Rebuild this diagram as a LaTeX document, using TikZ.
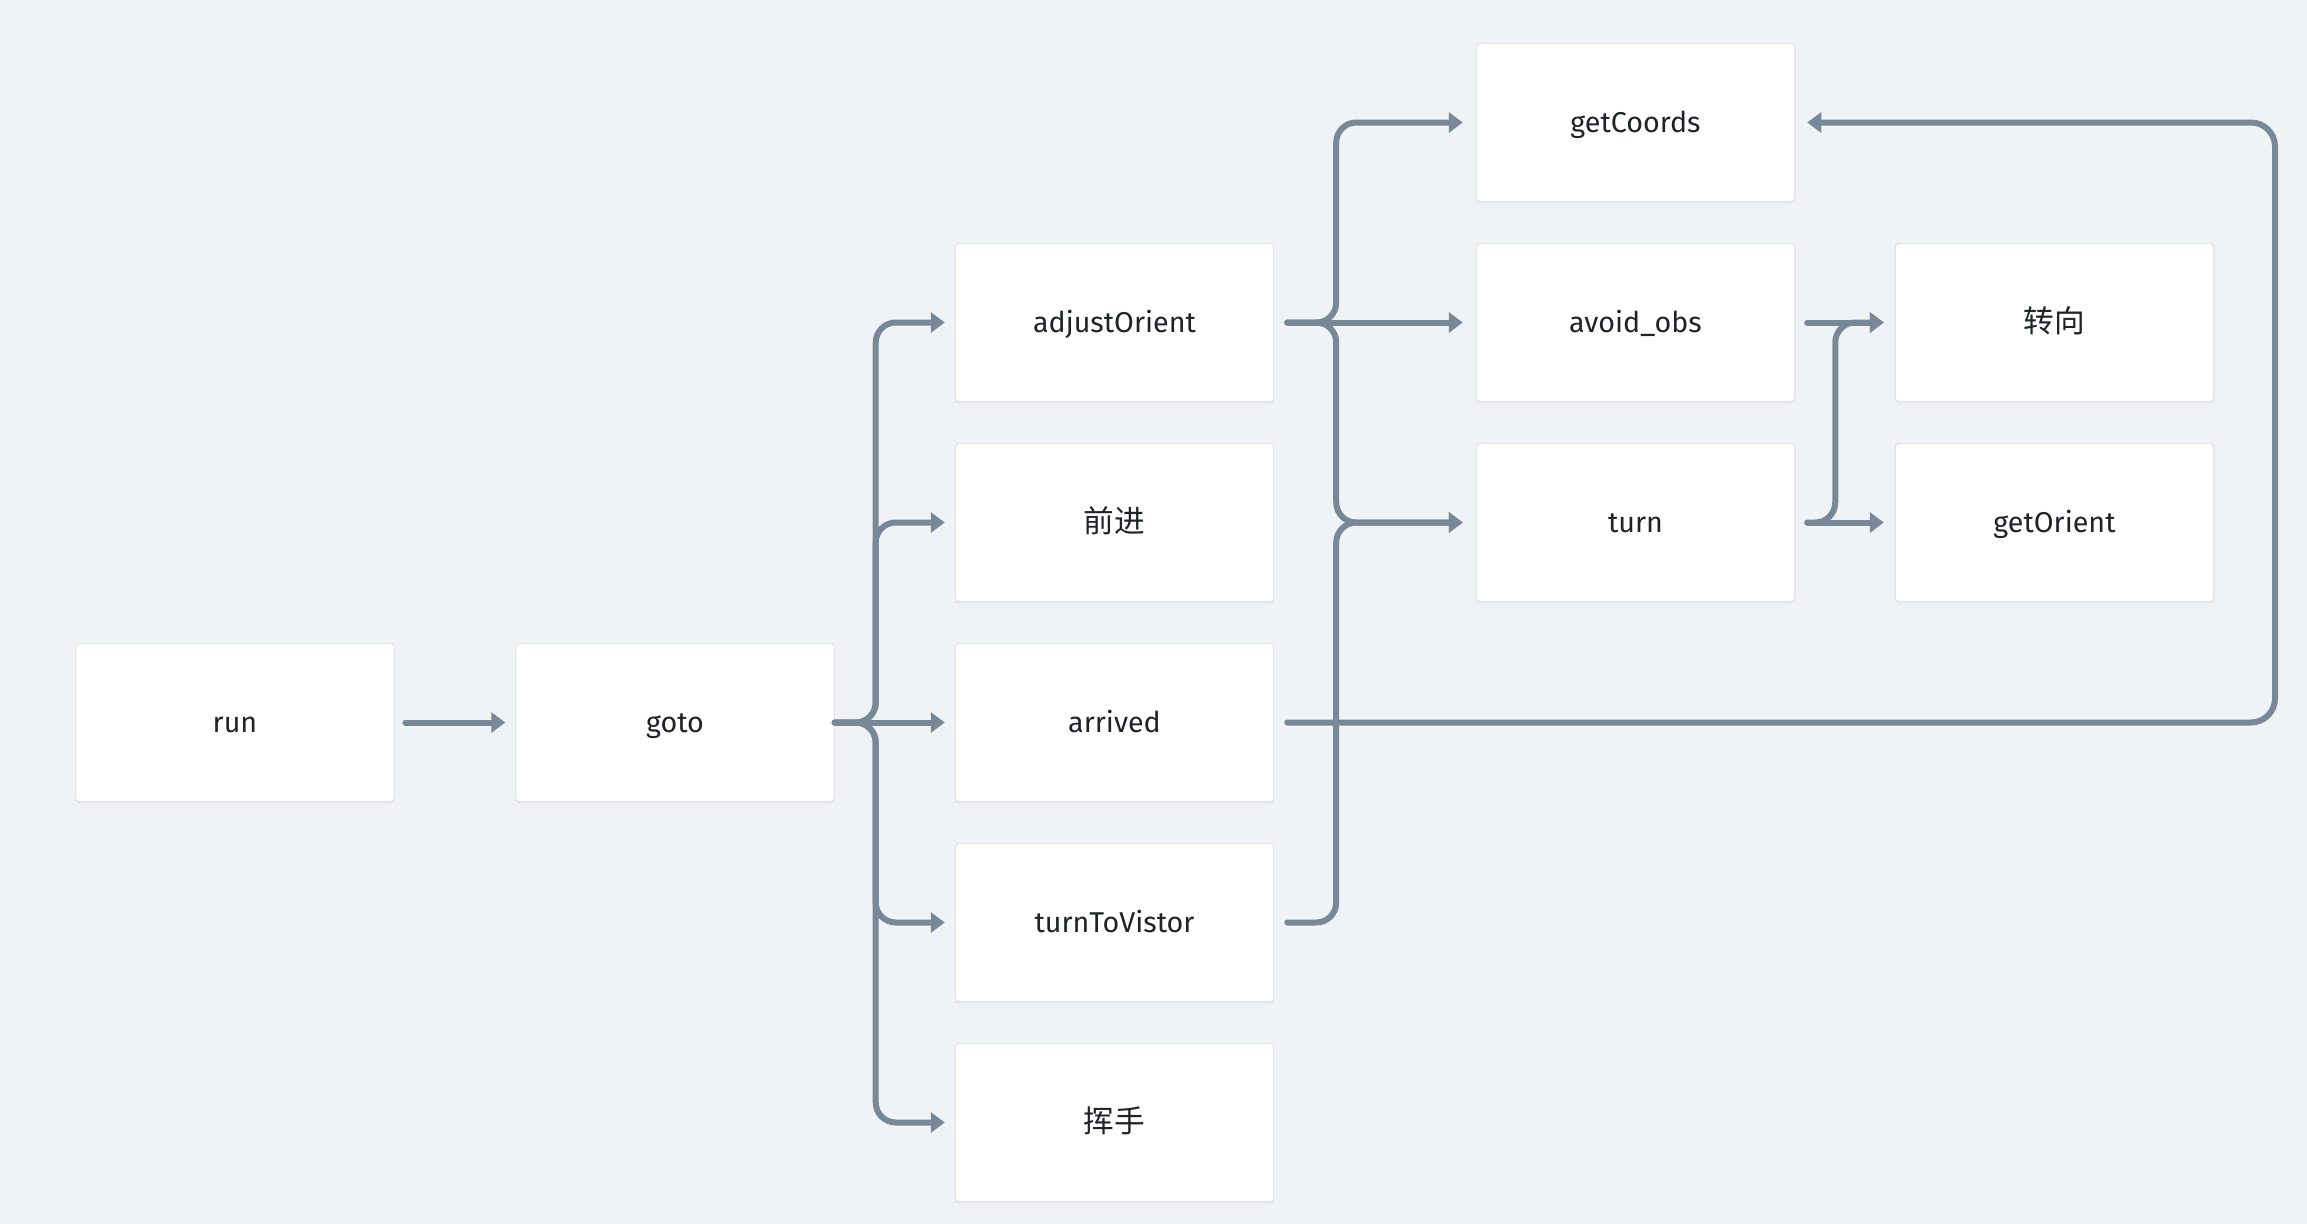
\documentclass[tikz,border=0pt]{standalone}
\usepackage{fontspec}
\setmainfont{Fira Sans}
\newfontfamily\cjk{Noto Sans CJK SC}
\usetikzlibrary{arrows.meta,shadows}
\definecolor{bgc}{HTML}{F0F3F6}
\definecolor{linec}{HTML}{778899}
\definecolor{boxb}{HTML}{D6DADF}
\definecolor{txt}{HTML}{1F2329}
\newcommand{\zh}[1]{{\cjk\fontsize{23}{26}\selectfont #1}}
\begin{document}
\begin{tikzpicture}[x=0.75pt,y=-0.75pt,
  box/.style={draw=boxb, line width=0.6pt, fill=white, rounded corners=3pt,
    minimum width=239pt, minimum height=119pt, inner sep=0pt,
    text height=15.5pt, text depth=0pt,
    text=txt, font=\fontsize{21.5}{25}\selectfont,
    drop shadow={opacity=0.05, shadow xshift=0pt, shadow yshift=-1.5pt}},
  conn/.style={draw=linec, line width=4.5pt, line cap=round, rounded corners=15pt,
    -{Triangle[length=10.5pt,width=15pt]}}]
\fill[bgc] (0,0) rectangle (2307,1224);
\useasboundingbox (0,0) rectangle (2307,1224);
% nodes
\node[box] (run) at (235,722.5) {run};
\node[box] (goto) at (675,722.5) {goto};
\node[box] (adj) at (1114.5,322.5) {adjustOrient};
\node[box] (qj) at (1114.5,522.5) {\zh{前进}};
\node[box] (arr) at (1114.5,722.5) {arrived};
\node[box] (tv) at (1114.5,922.5) {turnToVistor};
\node[box] (hs) at (1114.5,1122.5) {\zh{挥手}};
\node[box] (gc) at (1635.5,122.5) {getCoords};
\node[box] (ao) at (1635.5,322.5) {avoid\_obs};
\node[box] (turn) at (1635.5,522.5) {turn};
\node[box] (zx) at (2054.5,322.5) {\zh{转向}};
\node[box] (go) at (2054.5,522.5) {getOrient};
% connectors
\draw[conn] ([xshift=8pt]run.east) -- ([xshift=-7.5pt]goto.west);
\draw[conn] (goto.east) -- ([xshift=-7.5pt]arr.west);
\draw[conn] (goto.east) -- ++(41,0) |- ([xshift=-7.5pt]adj.west);
\draw[conn] (goto.east) -- ++(41,0) |- ([xshift=-7.5pt]qj.west);
\draw[conn] (goto.east) -- ++(41,0) |- ([xshift=-7.5pt]tv.west);
\draw[conn] (goto.east) -- ++(41,0) |- ([xshift=-7.5pt]hs.west);
\draw[conn] ([xshift=9.75pt]adj.east) -- ([xshift=-9.75pt]ao.west);
\draw[conn] ([xshift=9.75pt]adj.east) -- ++(49,0) |- ([xshift=-9.75pt]gc.west);
\draw[conn] ([xshift=9.75pt]adj.east) -- ++(49,0) |- ([xshift=-9.75pt]turn.west);
\draw[conn] ([xshift=9.75pt]tv.east) -- ++(49,0) |- ([xshift=-9.75pt]turn.west);
\draw[conn] ([xshift=9pt]ao.east) -- ([xshift=-8.25pt]zx.west);
\draw[conn] ([xshift=9pt]turn.east) -- ([xshift=-8.25pt]go.west);
\draw[conn] ([xshift=9pt]turn.east) -- ++(28,0) |- ([xshift=-8.25pt]zx.west);
\draw[conn, rounded corners=18pt] ([xshift=9.75pt]arr.east) -- (2275,722.5) -- (2275,122.5) -- ([xshift=9pt]gc.east);
\end{tikzpicture}
\end{document}
